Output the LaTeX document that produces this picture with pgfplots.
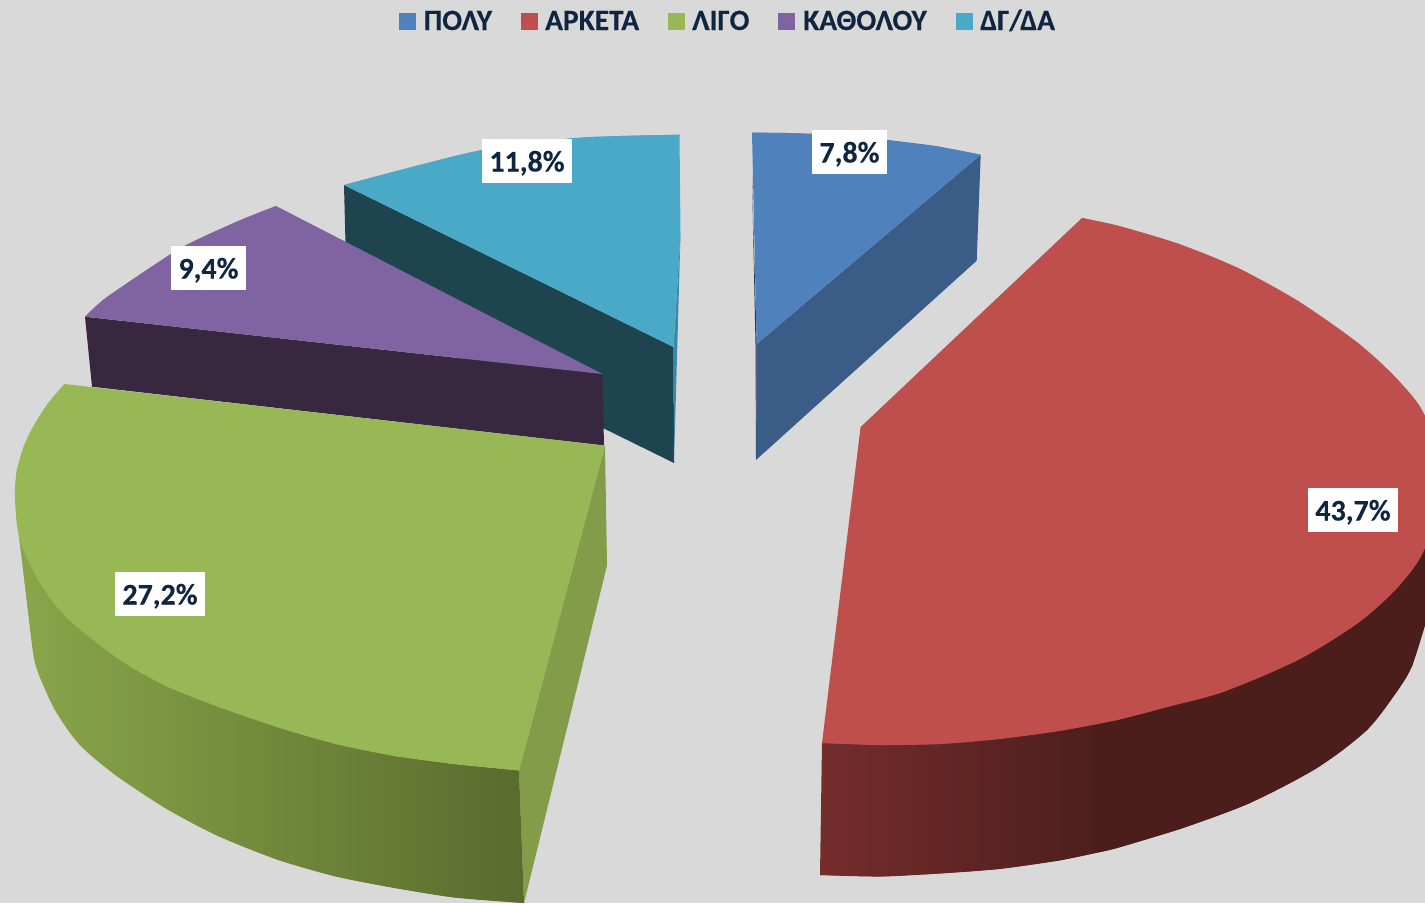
\documentclass[border=0pt]{standalone}
\usepackage{fontspec}
\setmainfont{Carlito}[BoldFeatures={FakeBold=0.25}]
\usepackage{pgfplots}
\pgfplotsset{compat=1.18}
\definecolor{bgc}{HTML}{D9D9D9}
\definecolor{cblue}{HTML}{4F81BD}
\definecolor{cblueW}{HTML}{3B5C87}
\definecolor{cblueD}{HTML}{1F3A5C}
\definecolor{cred}{HTML}{BE4F4C}
\definecolor{credL}{HTML}{742D2D}
\definecolor{credR}{HTML}{4C1E1B}
\definecolor{cgreen}{HTML}{98B855}
\definecolor{cgreenF}{HTML}{839C49}
\definecolor{cgreenL}{HTML}{89A64A}
\definecolor{cgreenR}{HTML}{5A6B2E}
\definecolor{cpurple}{HTML}{8064A2}
\definecolor{cpurpleW}{HTML}{37273F}
\definecolor{cteal}{HTML}{4AA9C6}
\definecolor{ctealW}{HTML}{1E4450}
\definecolor{ctealE}{HTML}{3A8AA5}
\definecolor{ctxt}{HTML}{10253F}
\newcommand{\lab}[3]{\node[fill=white,text=ctxt,inner sep=0pt,minimum width=#2,minimum height=44pt,font=\fontsize{30}{32}\selectfont\bfseries] at #1 {\raisebox{-10.5pt}[0pt][0pt]{#3}};}
\newcommand{\leg}[2]{\node[anchor=base west,text=ctxt,inner sep=0pt,font=\fontsize{29.4}{32}\selectfont\bfseries] at (axis cs:#1,30) {#2};}
\begin{document}
\begin{tikzpicture}
\begin{axis}[
  at={(0pt,0pt)}, anchor=south west,
  width=1425pt, height=903pt, scale only axis,
  xmin=0, xmax=1425, ymin=0, ymax=903, y dir=reverse,
  ticks=none, axis line style={draw=none},
  axis background/.style={fill=bgc},
  every axis plot/.append style={draw=none, no markers},
]
% ΔΓ/ΔΑ 11,8
\addplot[fill=ctealW] coordinates {(344,185)(347,302)(674,463)(673.5,347)};
\addplot[fill=ctealE] coordinates {(680.5,233)(674,463)(673.5,347)};
\addplot[fill=cteal] coordinates {(679.5,134.7)(620,136)(572,138.3)(482,150)(413,166.7)(344,185)(673.5,347)(680.5,233)};
\addplot[fill=cteal,smooth] coordinates {(679.5,134.7)(620,136)(572,138.3)(482,150)(413,166.7)(344,185)};
% ΚΑΘΟΛΟΥ 9,4
\addplot[fill=cpurpleW] coordinates {(85,316.7)(92,386.7)(604,445.5)(602.4,374)};
\addplot[fill=cpurple] coordinates {(276,206)(236.7,221.7)(183,246.7)(136.7,276.7)(103,300)(85,316.7)(602.4,374)};
\addplot[fill=cpurple,smooth] coordinates {(276,206)(236.7,221.7)(183,246.7)(136.7,276.7)(103,300)(85,316.7)};
% ΛΙΓΟ 27,2
\addplot[fill=cgreenF] coordinates {(605,445.5)(607,565.5)(524,903)(519,770.4)};
\addplot[left color=cgreenL,right color=cgreenR] coordinates {(519,770.4)(454.7,764)(395,756)(336,744)(277,727)(217.5,706.5)(166,686)(118.6,659)(67,618)(39.5,582.4)(19,535)(27.7,608)(33.6,655.5)(39.5,676)(55,710)(79,744)(114.7,774.5)(166,808.5)(217.5,835.7)(277,859.5)(336,876.5)(395,888)(454.7,897.5)(524,903)};
\addplot[left color=cgreenL,right color=cgreenR,smooth] coordinates {(19,535)(27.7,608)(33.6,655.5)(39.5,676)(55,710)(79,744)(114.7,774.5)(166,808.5)(217.5,835.7)(277,859.5)(336,876.5)(395,888)(454.7,897.5)(524,903)};
\addplot[fill=cgreen] coordinates {(64.5,384)(605,445.5)(519,770.4)(454.7,764)(395,756)(336,744)(277,727)(217.5,706.5)(166,686)(118.6,659)(67,618)(39.5,582.4)(19.8,540)(15,499)(16.6,472)(23.7,446.5)(33.6,426)(47.5,404)};
\addplot[fill=cgreen,smooth] coordinates {(519,770.4)(454.7,764)(395,756)(336,744)(277,727)(217.5,706.5)(166,686)(118.6,659)(67,618)(39.5,582.4)(19.8,540)(15,499)(16.6,472)(23.7,446.5)(33.6,426)(47.5,404)(64.5,384)};
% ΠΟΛΥ 7,8
\addplot[fill=cblueW] coordinates {(980.7,154.7)(976.7,260.7)(756,460)(756.7,344)};
\addplot[fill=cblueD] coordinates {(752,177)(755.5,344)(756,460)(756.7,344)};
\addplot[fill=cblue] coordinates {(752,132.7)(787,133)(840,135)(887,140)(935,146)(980.7,154.7)(756.7,344)};
\addplot[fill=cblue,smooth] coordinates {(752,132.7)(787,133)(840,135)(887,140)(935,146)(980.7,154.7)};
% ΑΡΚΕΤΑ 43,7
\addplot[left color=credL,right color=credR] coordinates {(822,743)(880,738)(940,735)(999,730)(1059,720)(1100,700)(1100,852)(1059,860.5)(999,869)(939.5,873.5)(880,876.5)(820,875)};
\addplot[left color=credL,right color=credR,smooth] coordinates {(820,875)(880,876.5)(939.5,873.5)(999,869)(1059,860.5)(1100,852)};
\addplot[fill=credR] coordinates {(1100,700)(1223,680)(1298,650)(1358,610)(1398,575)(1425,540)(1425,625)(1412,666)(1398,690)(1367,730)(1317,768)(1250,803)(1183,828)(1117,848)(1100,852)};
\addplot[fill=credR,smooth] coordinates {(1100,852)(1117,848)(1183,828)(1250,803)(1317,768)(1367,730)(1398,690)(1412,666)(1425,625)};
\addplot[fill=cred] coordinates {(1082,218)(1119,226)(1179,244)(1238,268)(1298,301)(1358,343)(1398,380)(1425,416)(1425,548)(1398,587)(1358,623)(1298,660)(1223,692)(1167,707)(1117,720)(1059,731)(999,739)(940,744)(880,745)(822,743)(860.6,427)};
\addplot[fill=cred,smooth] coordinates {(1082,218)(1119,226)(1179,244)(1238,268)(1298,301)(1358,343)(1398,380)(1425,416)(1441,480)(1425,548)(1398,587)(1358,623)(1298,660)(1223,692)(1167,707)(1117,720)(1059,731)(999,739)(940,744)(880,745)(822,743)};
% labels
\lab{(axis cs:849.5,152)}{75pt}{7,8\%}
\lab{(axis cs:527,161)}{90pt}{11,8\%}
\lab{(axis cs:208.5,268)}{75pt}{9,4\%}
\lab{(axis cs:160,594)}{90pt}{27,2\%}
\lab{(axis cs:1353,510)}{90pt}{43,7\%}
% legend
\addplot[fill=cblue] coordinates {(399,13)(416,13)(416,30)(399,30)};
\addplot[fill=cred] coordinates {(521,13)(538,13)(538,30)(521,30)};
\addplot[fill=cgreen] coordinates {(668,13)(685,13)(685,30)(668,30)};
\addplot[fill=cpurple] coordinates {(778,13)(795,13)(795,30)(778,30)};
\addplot[fill=cteal] coordinates {(956,13)(973,13)(973,30)(956,30)};
\leg{423.5}{ΠΟΛΥ}
\leg{545}{ΑΡΚΕΤΑ}
\leg{692}{ΛΙΓΟ}
\leg{803}{ΚΑΘΟΛΟΥ}
\leg{980}{ΔΓ/ΔΑ}
\end{axis}
\end{tikzpicture}
\end{document}
